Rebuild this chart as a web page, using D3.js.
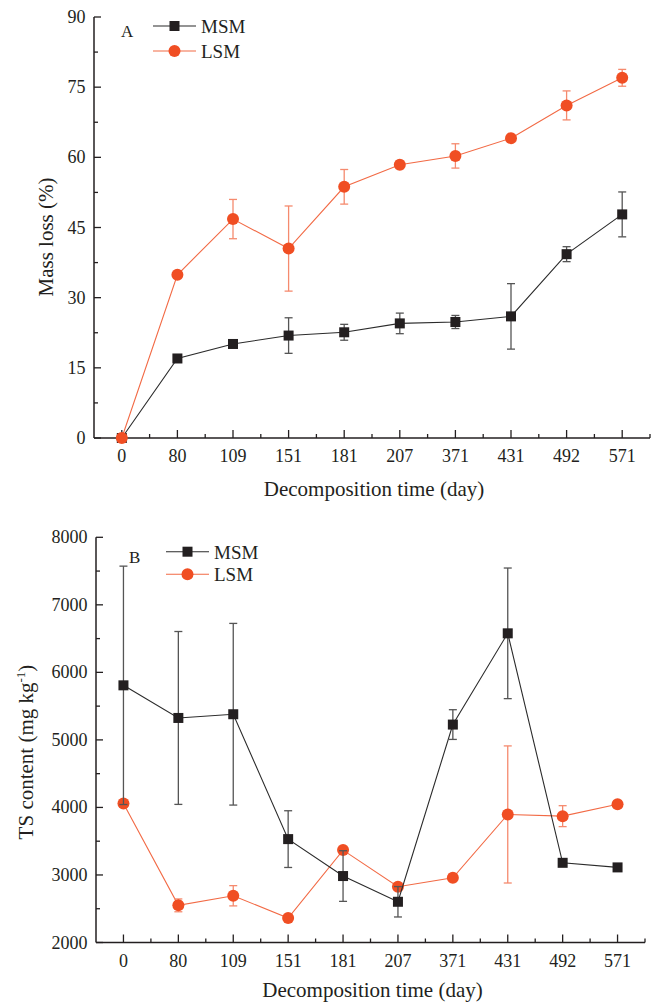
<!DOCTYPE html>
<html><head><meta charset="utf-8">
<script src="https://cdn.jsdelivr.net/npm/d3@7"></script>
<style>body{margin:0;background:#fff}svg{display:block}</style>
</head><body><svg id="c" width="660" height="1002" font-family="'Times New Roman','Liberation Serif','DejaVu Serif',serif"></svg>
<script>
const days = ["0","80","109","151","181","207","371","431","492","571"];
// Panel A: mass loss (%)
const msmMass = [0,17.0,20.1,21.9,22.6,24.5,24.8,26.0,39.3,47.8];
const msmMassErr = [0,0,0,3.8,1.7,2.2,1.4,7.0,1.6,4.8];
const lsmMass = [0,34.9,46.8,40.5,53.7,58.4,60.3,64.1,71.1,77.0];
const lsmMassErr = [0,0,4.2,9.1,3.7,0.8,2.6,0.5,3.1,1.8];
const massTicks = [0,15,30,45,60,75,90];
// Panel B: TS content (mg kg-1)
const msmTS = [5808,5325,5380,3531,2984,2603,5227,6578,3180,3112];
const msmTSErr = [1765,1280,1345,420,375,225,220,967,0,0];
const lsmTS = [4059,2550,2692,2362,3368,2825,2958,3896,3871,4048];
const lsmTSErr = [15,95,150,0,20,50,55,1015,155,45];
const tsTicks = [2000,3000,4000,5000,6000,7000,8000];

const svg = d3.select("#c");
const FONT = "'Times New Roman','Liberation Serif','DejaVu Serif',serif";
const BLACK = "#231f20", ORANGE = "#f04e23", ORANGE_LINE = "#f26a45", ORANGE_ERR = "#f58a6e", BLACK_ERR = "#555";

function txt(g){ return g.append("text").attr("font-family",FONT).attr("fill",BLACK); }

function panel(o){
  const g = svg.append("g");
  const x = d3.scalePoint().domain(days).range([o.x0,o.x1]).padding(0.5);
  const y = d3.scaleLinear().domain(o.ydom).range([o.yb,o.yt]);
  const step = x.step();
  g.append("line").attr("x1",o.x0).attr("x2",o.x0).attr("y1",o.yt).attr("y2",o.yb).attr("stroke",BLACK).attr("stroke-width",1.5);
  g.append("line").attr("x1",o.x0).attr("x2",o.x1).attr("y1",o.yb).attr("y2",o.yb).attr("stroke",BLACK).attr("stroke-width",1.5);
  const yt = o.yticks;
  yt.forEach(v=>{
    g.append("line").attr("x1",o.x0).attr("x2",o.x0+7).attr("y1",y(v)).attr("y2",y(v)).attr("stroke",BLACK).attr("stroke-width",1.3);
    txt(g).attr("x",o.x0-8.5).attr("y",y(v)+6).attr("text-anchor","end").attr("font-size",18).text(v);
  });
  for(let i=0;i<yt.length-1;i++){
    const v=(yt[i]+yt[i+1])/2;
    g.append("line").attr("x1",o.x0).attr("x2",o.x0+4).attr("y1",y(v)).attr("y2",y(v)).attr("stroke",BLACK).attr("stroke-width",1.3);
  }
  days.forEach(d=>{
    g.append("line").attr("x1",x(d)).attr("x2",x(d)).attr("y1",o.yb).attr("y2",o.yb-8).attr("stroke",BLACK).attr("stroke-width",1.3);
    txt(g).attr("x",x(d)).attr("y",o.yb+24).attr("text-anchor","middle").attr("font-size",18).text(d);
  });
  for(let i=1;i<=days.length;i++){
    const xm = o.x0 + step*i;
    g.append("line").attr("x1",xm).attr("x2",xm).attr("y1",o.yb).attr("y2",o.yb-4).attr("stroke",BLACK).attr("stroke-width",1.3);
  }
  txt(g).attr("x",(o.x0+o.x1)/2+2).attr("y",o.yb+o.xtdy).attr("text-anchor","middle").attr("font-size",21).text("Decomposition time (day)");
  const yl = txt(g).attr("transform",`translate(${o.ytx},${o.ytcy}) rotate(-90)`).attr("text-anchor","middle").attr("font-size",21);
  o.ytitle(yl);
  txt(g).attr("x",o.lab[0]).attr("y",o.lab[1]).attr("font-size",17).text(o.label);

  function series(vals, errs, kind){
    const col = kind==="sq" ? BLACK : ORANGE;
    const lcol = kind==="sq" ? "#2b2b2b" : ORANGE_LINE;
    const ecol = kind==="sq" ? BLACK_ERR : ORANGE_ERR;
    const line = d3.line().x((v,i)=>x(days[i])).y(v=>y(v));
    g.append("path").attr("d",line(vals)).attr("fill","none").attr("stroke",lcol).attr("stroke-width",1.1);
    vals.forEach((v,i)=>{
      if(errs[i]>0){
        const cx = x(days[i]);
        const a=y(v+errs[i]), b=y(v-errs[i]);
        g.append("line").attr("x1",cx).attr("x2",cx).attr("y1",a).attr("y2",b).attr("stroke",ecol).attr("stroke-width",1.3);
        [a,b].forEach(yy=>g.append("line").attr("x1",cx-4).attr("x2",cx+4).attr("y1",yy).attr("y2",yy).attr("stroke",ecol).attr("stroke-width",1.3));
      }
    });
    vals.forEach((v,i)=>{
      const cx=x(days[i]), cy=y(v);
      if(kind==="sq") g.append("rect").attr("x",cx-5).attr("y",cy-5).attr("width",10).attr("height",10).attr("fill",col);
      else g.append("circle").attr("cx",cx).attr("cy",cy).attr("r",6).attr("fill",col);
    });
  }
  o.order.forEach(s=>series(...s));
  const L=o.leg;
  [["MSM","sq",0],["LSM","ci",1]].forEach(([name,kind,k])=>{
    const yy=L.y+k*L.dy;
    g.append("line").attr("x1",L.x).attr("x2",L.x+43).attr("y1",yy).attr("y2",yy).attr("stroke",kind==="sq"?"#2b2b2b":ORANGE_LINE).attr("stroke-width",1.1);
    if(kind==="sq") g.append("rect").attr("x",L.x+21.5-5).attr("y",yy-5).attr("width",10).attr("height",10).attr("fill",BLACK);
    else g.append("circle").attr("cx",L.x+21.5).attr("cy",yy).attr("r",6).attr("fill",ORANGE);
    txt(g).attr("x",L.x+48).attr("y",yy+7).attr("font-size",19).text(name);
  });
}

panel({x0:94,x1:650,yt:17,yb:438,ydom:[0,90],yticks:massTicks,ytx:53,ytcy:237,xtdy:58,
  ytitle:t=>t.text("Mass loss (%)"),label:"A",lab:[121,37],
  order:[[msmMass,msmMassErr,"sq"],[lsmMass,lsmMassErr,"ci"]],
  leg:{x:153,y:26,dy:25}});

panel({x0:96,x1:645,yt:537.3,yb:942.5,ydom:[2000,8000],yticks:tsTicks,ytx:33,ytcy:752,xtdy:54,
  ytitle:t=>{t.append("tspan").text("TS content (mg kg");t.append("tspan").attr("font-size",13).attr("dy",-8).text("-1");t.append("tspan").attr("dy",8).text(")");},
  label:"B",lab:[129,563],
  order:[[lsmTS,lsmTSErr,"ci"],[msmTS,msmTSErr,"sq"]],
  leg:{x:166,y:551.7,dy:22.6}});
</script></body></html>
